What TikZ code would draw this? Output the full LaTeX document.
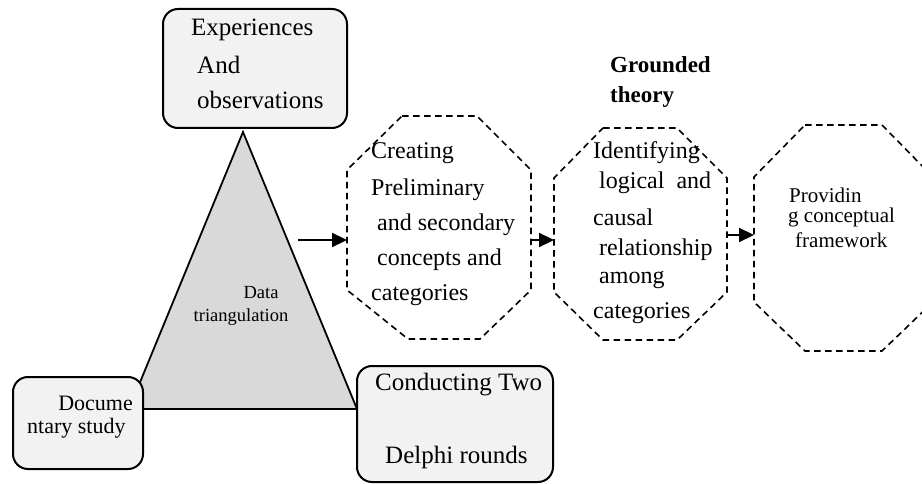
\documentclass[tikz,border=0pt]{standalone}
\usepackage{fontspec}
\setmainfont{Liberation Serif}
\usetikzlibrary{arrows.meta}
\definecolor{boxgray}{HTML}{F2F2F2}
\definecolor{trigray}{HTML}{D9D9D9}
\begin{document}
\begin{tikzpicture}[x=1pt,y=-1pt,
  box/.style={draw, line width=2pt, rounded corners=15pt, fill=boxgray, inner sep=0pt},
  oct/.style={draw, line width=1.6pt, dash pattern=on 6.5pt off 4.5pt},
  tri/.style={draw, line width=1.8pt, fill=trigray, line join=miter},
  arr/.style={line width=2.2pt, -{Triangle[length=15pt,width=14pt]}},
  lbl/.style={anchor=west, inner sep=0pt, font=\fontsize{24}{28}\selectfont},
  lblb/.style={lbl, font=\fontsize{25}{28}\selectfont},
  lbls/.style={lbl, font=\fontsize{21}{24}\selectfont},
  lbld/.style={lbl, font=\fontsize{22}{24}\selectfont},
  lblt/.style={inner sep=0pt, font=\fontsize{18.5}{20}\selectfont},
  lblg/.style={lbl, font=\fontsize{23}{26}\selectfont\bfseries},
]
\useasboundingbox (0,0) rectangle (922,484);

% triangle
\coordinate (apex) at (243,132);
\coordinate (tl) at (129,409);
\coordinate (tr) at (357,409);
\draw[tri] (apex) -- (tr) -- (tl) -- cycle;
\node[lblt] (data) at (261,293) {Data};
\node[lblt] (triang) at (241,317) {triangulation};

% boxes
\node[box, minimum width=184pt, minimum height=119pt] (exp) at (255,68.5) {};
\node[box, minimum width=130pt, minimum height=92pt] (doc) at (78,423) {};
\node[box, minimum width=196pt, minimum height=116pt] (con) at (455,424) {};

\node[lblb] (e1) at (191,30) {Experiences};
\node[lblb] (e2) at (197,65) {And};
\node[lblb] (e3) at (197,100) {observations};

\node[lbld, anchor=east] (d1) at (133,403) {Docume};
\node[lbld] (d2) at (27,428) {ntary study};

\node[lblb] (c1) at (375,385) {Conducting Two};
\node[lblb] (c2) at (385,457) {Delphi rounds};

% octagon 1
\draw[oct] (402,116) -- (477,116) -- (531,170) -- (531,290) -- (480,339) -- (408,339) -- (347,290) -- (347,170) -- cycle;
\coordinate (o1w) at (347,240);
\coordinate (o1e) at (531,240);
\node[lbl] (a1) at (371,153) {Creating};
\node[lbl] (a2) at (371,190) {Preliminary};
\node[lbl] (a3) at (377,225) {and secondary};
\node[lbl] (a4) at (377,260) {concepts and};
\node[lbl] (a5) at (371,295) {categories};

% octagon 2
\draw[oct] (603,128) -- (677,128) -- (727,178) -- (727,292) -- (677,340) -- (603,340) -- (554,292) -- (554,178) -- cycle;
\coordinate (o2w) at (554,240);
\coordinate (o2e) at (727,235);
\node[lbl] (b1) at (593,153) {Identifying};
\node[lbl] (b2) at (599,183) {logical\ \ and};
\node[lbl] (b3) at (593,217) {causal};
\node[lbl] (b4) at (599,250) {relationship};
\node[lbl] (b5) at (599,280) {among};
\node[lbl] (b6) at (593,313) {categories};

% octagon 3
\draw[oct] (805,125) -- (882,125) -- (933,177) -- (933,302) -- (882,351) -- (805,351) -- (754,302) -- (754,177) -- cycle;
\coordinate (o3w) at (754,235);
\node[lbls] (p1) at (789,195) {Providin};
\node[lbls] (p2) at (788,217) {g conceptual};
\node[lbls] (p3) at (795,240) {framework};

% grounded theory
\node[lblg] (g1) at (610,65) {Grounded};
\node[lblg] (g2) at (610,97) {theory};

% arrows
\coordinate (trr) at (298,240);
\draw[arr] (trr) -- (o1w);
\draw[arr] (o1e) -- (o2w);
\draw[arr] (o2e) -- (o3w);
\end{tikzpicture}
\end{document}
